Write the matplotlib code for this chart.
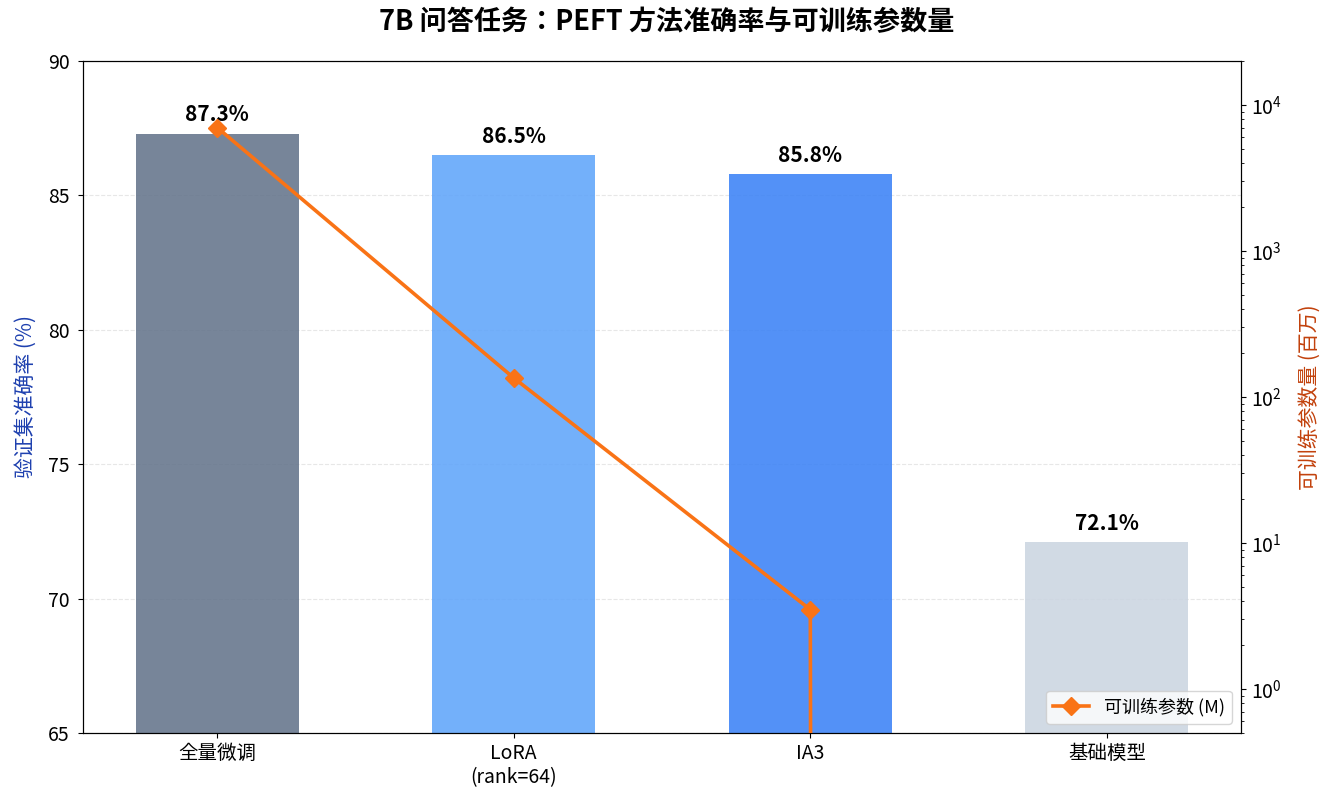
import matplotlib
matplotlib.use("Agg")
import matplotlib.pyplot as plt
import numpy as np

plt.rcParams['font.family'] = ['Noto Sans CJK JP', 'DejaVu Sans']
plt.rcParams['axes.unicode_minus'] = False

categories = ['全量微调', 'LoRA\n(rank=64)', 'IA3', '基础模型']
accuracy = [87.3, 86.5, 85.8, 72.1]
params_m = [7000, 135, 3.5, 0]
bar_colors = ['#64748b', '#60a5fa', '#3b82f6', '#cbd5e1']

fig = plt.figure(figsize=(13.33, 8.10), dpi=100)
ax1 = fig.add_axes([0.0623, 0.0951, 0.8687, 0.8296])

x = np.arange(len(categories))
bars = ax1.bar(x, accuracy, width=0.55, color=bar_colors, alpha=0.88, zorder=2)
ax1.set_ylim(65, 90)
ax1.set_xticks(x)
ax1.set_xticklabels(categories, fontsize=14)
ax1.tick_params(axis='y', labelsize=14, pad=6)
ax1.set_ylabel('验证集准确率 (%)', color='#1e40af', fontsize=15, labelpad=8)
ax1.grid(axis='y', linestyle='--', alpha=0.3, zorder=0)
ax1.set_axisbelow(True)

for b, v in zip(bars, accuracy):
    ax1.annotate(f'{v:.1f}%', (b.get_x() + b.get_width() / 2, v),
                 xytext=(0, 6), textcoords='offset points',
                 ha='center', va='bottom', fontsize=15, fontweight='bold')

ax2 = ax1.twinx()
ax2.set_yscale('log')
ax2.plot(x, params_m, color='#f97316', marker='D', markersize=9, linewidth=2.6,
         label='可训练参数 (M)', zorder=3)
ax2.set_ylim(0.5, 2e4)
ax2.tick_params(axis='y', labelsize=14)
ax2.set_ylabel('可训练参数量 (百万)', color='#c2410c', fontsize=15, labelpad=12)
ax2.legend(loc='lower right', fontsize=13)

fig.suptitle('7B 问答任务：PEFT 方法准确率与可训练参数量', fontsize=19.5,
             fontweight='bold', y=0.99)

fig.savefig('out.png', dpi=100)
